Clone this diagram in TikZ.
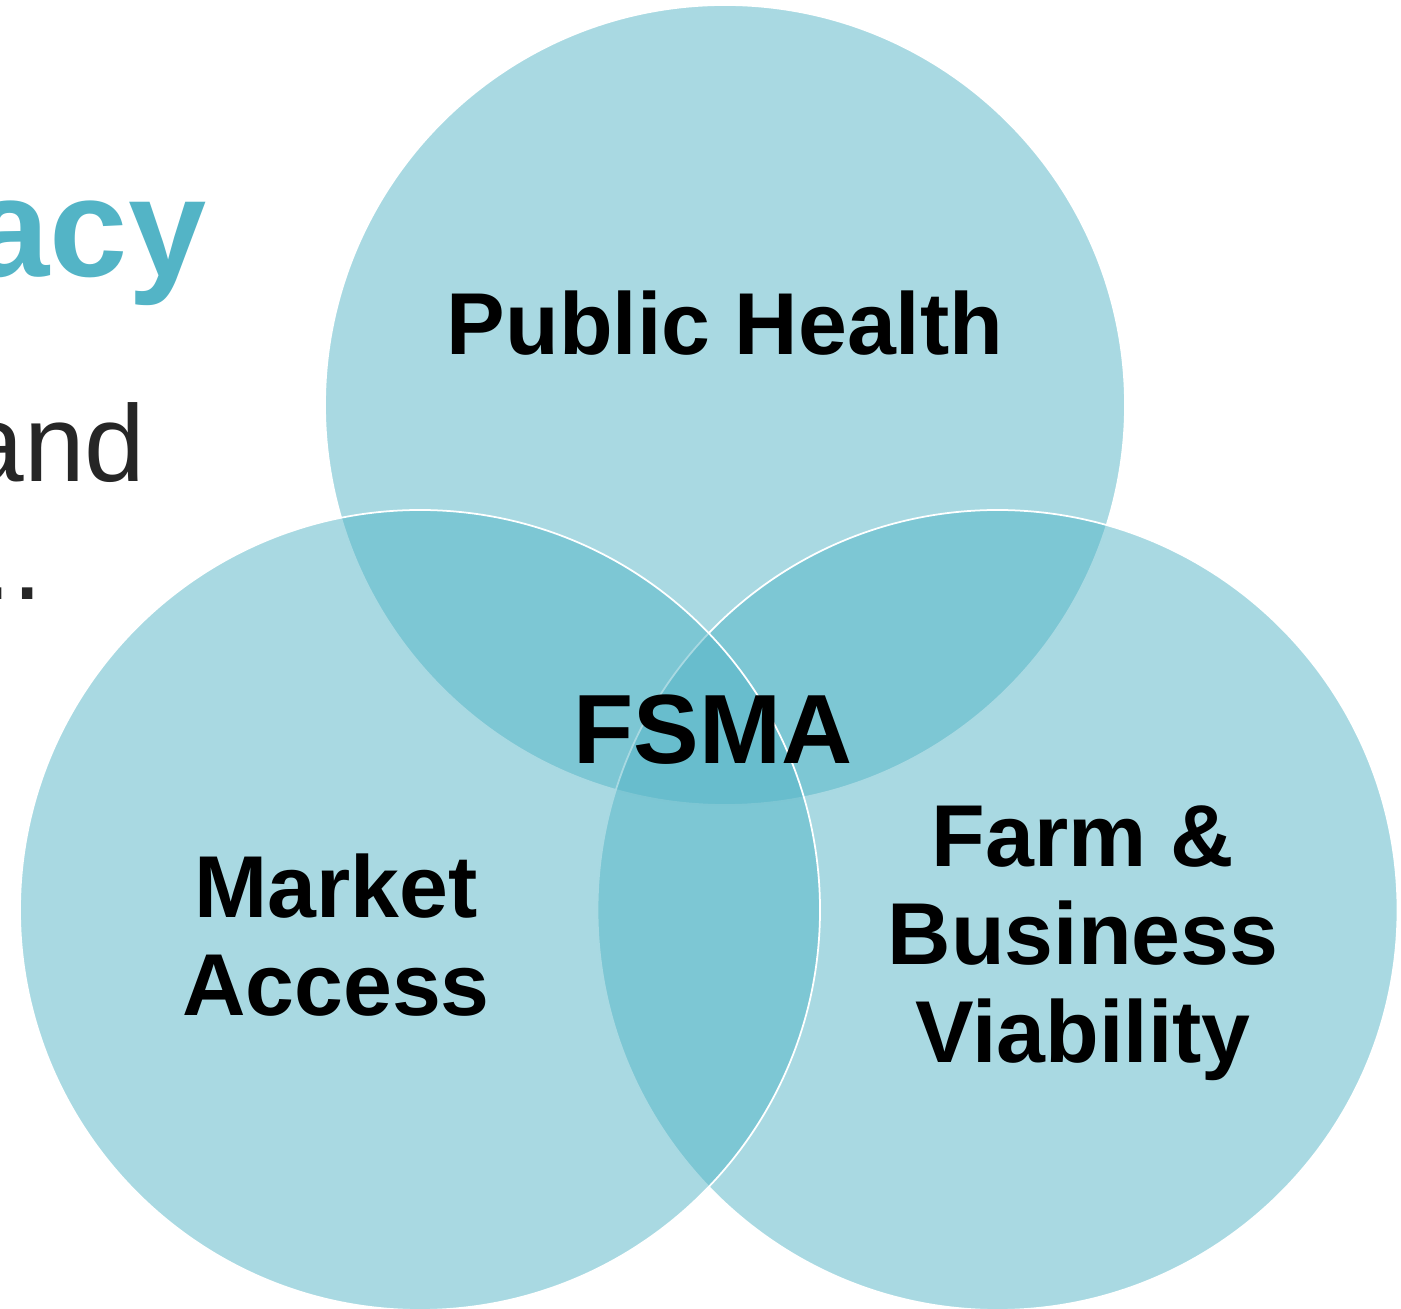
\documentclass[tikz,border=0pt]{standalone}
\usepackage{fontspec}
\setmainfont{Liberation Sans}
\definecolor{fsmateal}{RGB}{83,180,198}
\definecolor{fsmagray}{RGB}{38,38,38}
\tikzset{
	venn/.style={fill=fsmateal, fill opacity=0.5, draw=white, line width=0.5pt},
	vennlabel/.style={inner sep=0pt, align=center, font=\bfseries\fontsize{25}{27.9}\selectfont}
}

\begin{document}
\begin{tikzpicture}
				\useasboundingbox (0, 0) rectangle (14.01, 13.08);
				\clip (0, 0) rectangle (14.01, 13.08);
				
				% slide text cut off at the left
				\node[anchor=base east, inner sep=0pt, text=fsmateal, font=\bfseries\fontsize{40}{44}\selectfont] (acy) at (2.07, 10.31) {acy};
				\node[anchor=base east, inner sep=0pt, text=fsmagray, font=\fontsize{31}{34}\selectfont] (and) at (1.46, 8.26) {and};
				\node[anchor=base east, inner sep=0pt, text=fsmagray, font=\fontsize{31}{34}\selectfont] (dots) at (0.43, 7.08) {..};
				
				% the three circles
				\draw[venn] (7.25, 9.03) circle (4.0);
				\draw[venn] (9.975, 3.98) circle (4.0);
				\draw[venn] (4.20, 3.98) circle (4.0);
				
				\node[vennlabel, anchor=base] (health) at (7.25, 9.53) {Public Health};
				\node[vennlabel] (market) at (3.36, 3.73) {Market\\Access};
				\node[vennlabel] (farm) at (10.83, 3.65) {Farm \&\\Business\\Viability};
				\node[vennlabel, anchor=base, font=\bfseries\fontsize{28}{30}\selectfont] (fsma) at (7.13, 5.44) {FSMA};
			\end{tikzpicture}
\end{document}
